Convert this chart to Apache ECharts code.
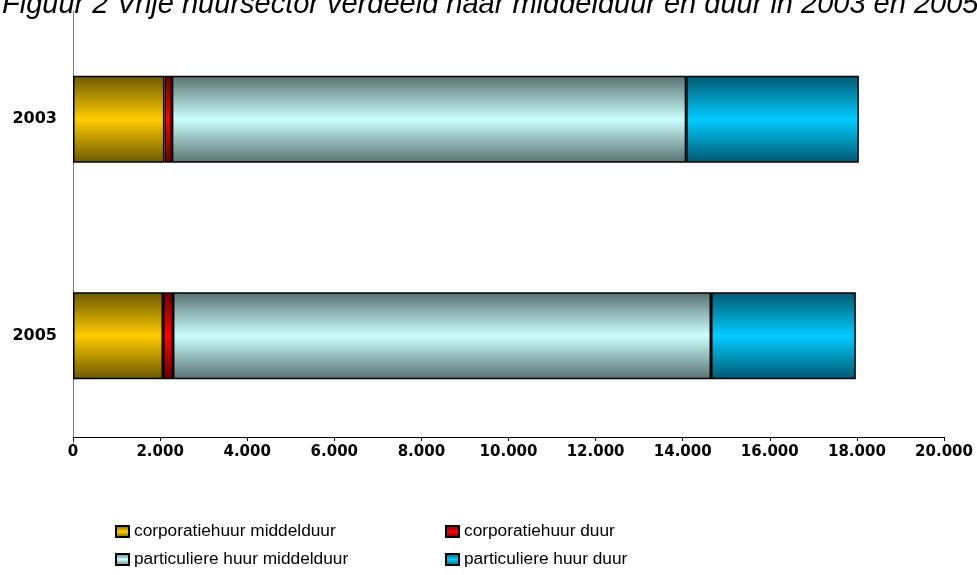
<!DOCTYPE html>
<html>
<head>
<meta charset="utf-8">
<script src="https://cdn.jsdelivr.net/npm/echarts@6/dist/echarts.min.js"></script>
<style>
  html, body { margin: 0; padding: 0; background: #fff; }
  #chart { width: 977px; height: 575px; }
</style>
</head>
<body>
<div id="chart"></div>
<script>
// data
var jaren = ['2003', '2005'];
var corpMiddel = [2100, 2065];
var corpDuur = [170, 230];
var partMiddel = [11810, 12355];
var partDuur = [3965, 3325];
var reeksNamen = ['corporatiehuur middelduur', 'corporatiehuur duur', 'particuliere huur middelduur', 'particuliere huur duur'];

// cilinder-achtig verloop
function verloop(donker, licht) {
    return new echarts.graphic.LinearGradient(0, 0, 0, 1, [
        { offset: 0, color: donker },
        { offset: 0.5, color: licht },
        { offset: 1, color: donker }
    ]);
}

function reeks(naam, data, kleur) {
    return {
        name: naam,
        type: 'bar',
        stack: 'totaal',
        barWidth: 87,
        data: data,
        itemStyle: { color: kleur, borderColor: '#000', borderWidth: 1.5 }
    };
}

var chart = echarts.init(document.getElementById('chart'));

var legendaTekst = { fontFamily: 'Liberation Sans', fontSize: 17.3, color: '#000' };

var option = {
    animation: false,
    title: {
        text: 'Figuur 2 Vrije huursector verdeeld naar middelduur en duur in 2003 en 2005',
        left: -3,
        top: -15,
        textStyle: { fontFamily: 'Liberation Sans', fontStyle: 'italic', fontWeight: 'normal', fontSize: 29, color: '#000' }
    },
    legend: [
        { data: [reeksNamen[0]], left: 110, top: 518, icon: 'rect', itemWidth: 13, itemHeight: 11, itemGap: 4, textStyle: legendaTekst },
        { data: [reeksNamen[1]], left: 440, top: 518, icon: 'rect', itemWidth: 13, itemHeight: 11, itemGap: 4, textStyle: legendaTekst },
        { data: [reeksNamen[2]], left: 110, top: 546, icon: 'rect', itemWidth: 13, itemHeight: 11, itemGap: 4, textStyle: legendaTekst },
        { data: [reeksNamen[3]], left: 440, top: 546, icon: 'rect', itemWidth: 13, itemHeight: 11, itemGap: 4, textStyle: legendaTekst }
    ],
    grid: { left: 73, right: 33, top: 11, bottom: 131 },
    xAxis: {
        type: 'value',
        min: 0,
        max: 20000,
        interval: 2000,
        offset: -7,
        splitLine: { show: false },
        axisLine: { show: true, lineStyle: { color: '#000', width: 1 } },
        axisTick: { show: true, length: 4, lineStyle: { color: '#000' } },
        axisLabel: {
            fontFamily: 'DejaVu Sans', fontWeight: 'bold', fontSize: 15, color: '#000', margin: 8,
            formatter: function (v) { return v === 0 ? '0' : String(v).replace(/\B(?=(\d{3})+(?!\d))/g, '.'); }
        }
    },
    yAxis: {
        type: 'category',
        inverse: true,
        data: jaren,
        axisLine: { show: true, lineStyle: { color: '#808080', width: 1 } },
        axisTick: { show: false },
        axisLabel: { fontFamily: 'DejaVu Sans', fontWeight: 'bold', fontSize: 16, color: '#000', margin: 16 }
    },
    series: [
        reeks(reeksNamen[0], corpMiddel, verloop('#6b5800', '#ffcc00')),
        reeks(reeksNamen[1], corpDuur, verloop('#6a0000', '#ff0000')),
        reeks(reeksNamen[2], partMiddel, verloop('#587070', '#ccffff')),
        reeks(reeksNamen[3], partDuur, verloop('#005870', '#00ccff'))
    ]
};

chart.setOption(option);
</script>
</body>
</html>
